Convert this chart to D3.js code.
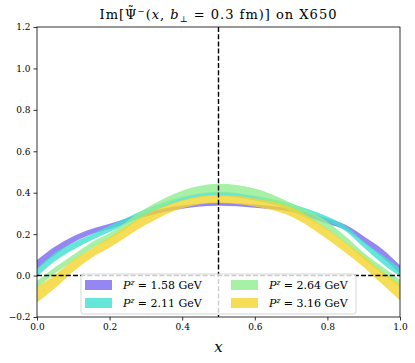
<!DOCTYPE html>
<html>
<head>
<meta charset="utf-8">
<script src="https://cdn.jsdelivr.net/npm/d3@7"></script>
<style>
  body { margin: 0; background: #fff; }
  svg text { fill: #000; }
</style>
</head>
<body>
<div id="chart"></div>
<script>
// sample points along x
var xs = [0, 0.05, 0.1, 0.15, 0.2, 0.3, 0.4, 0.5, 0.6, 0.7, 0.8, 0.85, 0.9, 0.95, 1.0];

// lower / upper edges of each band
var p158_lo = [0.03, 0.10, 0.16, 0.20, 0.225, 0.285, 0.323, 0.337, 0.328, 0.308, 0.25, 0.22, 0.16, 0.09, 0.01];
var p158_hi = [0.075, 0.14, 0.19, 0.225, 0.25, 0.305, 0.338, 0.353, 0.343, 0.323, 0.275, 0.245, 0.19, 0.13, 0.05];
var p211_lo = [-0.005, 0.07, 0.125, 0.17, 0.21, 0.295, 0.36, 0.385, 0.362, 0.322, 0.26, 0.215, 0.135, 0.06, -0.005];
var p211_hi = [0.035, 0.11, 0.16, 0.20, 0.24, 0.32, 0.38, 0.405, 0.385, 0.347, 0.285, 0.24, 0.165, 0.10, 0.035];
var p264_lo = [-0.06, 0.01, 0.07, 0.13, 0.175, 0.29, 0.375, 0.40, 0.38, 0.31, 0.22, 0.155, 0.08, 0.01, -0.055];
var p264_hi = [-0.025, 0.04, 0.10, 0.16, 0.205, 0.325, 0.41, 0.443, 0.42, 0.35, 0.26, 0.19, 0.11, 0.045, -0.02];
var p316_lo = [-0.13, -0.06, 0.02, 0.085, 0.135, 0.245, 0.325, 0.35, 0.333, 0.285, 0.175, 0.11, 0.04, -0.04, -0.12];
var p316_hi = [-0.055, 0.005, 0.075, 0.13, 0.185, 0.295, 0.365, 0.39, 0.373, 0.33, 0.225, 0.16, 0.095, 0.02, -0.04];

var labels = ["1.58", "2.11", "2.64", "3.16"];
var colors = ["#7b68ee", "#40e0d0", "#90ee90", "#f2d52e"];
var bands = [[p158_lo, p158_hi], [p211_lo, p211_hi], [p264_lo, p264_hi], [p316_lo, p316_hi]];

var xTicks = [0, 0.2, 0.4, 0.6, 0.8, 1.0];
var yTicks = [-0.2, 0, 0.2, 0.4, 0.6, 0.8, 1.0, 1.2];

var serif = "'DejaVu Serif', 'Liberation Serif', serif";
var width = 415,
    height = 363;
var mLeft = 37, mRight = 400, mTop = 27, mBottom = 317;

var svg = d3.select("#chart").append("svg")
    .attr("width", width)
    .attr("height", height)
    .attr("font-family", serif);

var x = d3.scaleLinear().domain([0, 1]).range([mLeft, mRight]);
var y = d3.scaleLinear().domain([-0.2, 1.2]).range([mBottom, mTop]);

// bands
bands.forEach(function (b, i) {
    var area = d3.area()
        .curve(d3.curveMonotoneX)
        .x(function (d, j) { return x(xs[j]); })
        .y0(function (d, j) { return y(b[0][j]); })
        .y1(function (d, j) { return y(b[1][j]); });
    svg.append("path")
        .datum(xs)
        .attr("d", area)
        .style("fill", colors[i])
        .style("fill-opacity", 0.8)
        .style("stroke", "none");
});

// dashed reference lines
svg.append("line")
    .attr("x1", x(0)).attr("x2", x(1))
    .attr("y1", y(0)).attr("y2", y(0))
    .style("stroke", "#000").style("stroke-width", 1.4)
    .style("stroke-dasharray", "5,2.2");
svg.append("line")
    .attr("x1", x(0.5)).attr("x2", x(0.5))
    .attr("y1", y(1.2)).attr("y2", y(-0.2))
    .style("stroke", "#000").style("stroke-width", 1.4)
    .style("stroke-dasharray", "5,2.2");

// axes
var xAxis = d3.axisBottom(x).tickValues(xTicks).tickSize(3.5).tickPadding(3)
    .tickFormat(d3.format(".1f"));
var yAxis = d3.axisLeft(y).tickValues(yTicks).tickSize(3.5).tickPadding(3)
    .tickFormat(function (d) { return d3.format(".1f")(d).replace("-", "\u2212"); });

var gx = svg.append("g").attr("transform", "translate(0," + mBottom + ")").call(xAxis);
var gy = svg.append("g").attr("transform", "translate(" + mLeft + ",0)").call(yAxis);
[gx, gy].forEach(function (g) {
    g.attr("font-family", serif).attr("font-size", 9);
    g.select(".domain").remove();
    g.selectAll("line").style("stroke", "#000").style("stroke-width", 0.8);
});

// frame
svg.append("rect")
    .attr("x", mLeft).attr("y", mTop)
    .attr("width", mRight - mLeft).attr("height", mBottom - mTop)
    .style("fill", "none").style("stroke", "#000").style("stroke-width", 0.8);

// title
var title = svg.append("text")
    .attr("x", (mLeft + mRight) / 2)
    .attr("y", 19)
    .attr("text-anchor", "middle")
    .attr("font-size", "13px")
    .attr("letter-spacing", "1px");
title.append("tspan").text("Im[\u03A8");
title.append("tspan").attr("dy", -5).attr("font-size", "8.5px").text("\u2212");
title.append("tspan").attr("dy", 5).text("(");
title.append("tspan").attr("font-style", "italic").text("x");
title.append("tspan").text(", ");
title.append("tspan").attr("font-style", "italic").text("b");
title.append("tspan").attr("dy", 3).attr("font-size", "8.5px").text("\u22A5");
title.append("tspan").attr("dy", -3).text(" = 0.3 fm)] on X650");

// tilde over Psi
var psi = title.node().getExtentOfChar(3);
svg.append("text")
    .attr("x", psi.x + psi.width / 2 - 0.5)
    .attr("y", 15)
    .attr("text-anchor", "middle")
    .attr("font-size", "12px")
    .text("\u02DC");

// x label
svg.append("text")
    .attr("x", (mLeft + mRight) / 2)
    .attr("y", 352)
    .attr("text-anchor", "middle")
    .attr("font-size", "15px")
    .attr("font-style", "italic")
    .text("x");

// legend
var lg = svg.append("g");
lg.append("rect")
    .attr("x", 81).attr("y", 274)
    .attr("width", 275).attr("height", 40)
    .attr("rx", 2.5)
    .style("fill", "#fff").style("fill-opacity", 0.8)
    .style("stroke", "#cccccc").style("stroke-width", 0.8);

labels.forEach(function (lab, i) {
    var col = i < 2 ? 0 : 1,
        row = i % 2;
    var px = col === 0 ? 85 : 231,
        py = row === 0 ? 285 : 303;
    lg.append("rect")
        .attr("x", px).attr("y", py - 5)
        .attr("width", 27).attr("height", 10)
        .style("fill", colors[i]).style("fill-opacity", 0.8);
    var t = lg.append("text")
        .attr("x", px + 38).attr("y", py + 4)
        .attr("font-size", "11px");
    t.append("tspan").attr("font-style", "italic").text("P");
    t.append("tspan").attr("dy", -4).attr("font-size", "7.5px").attr("font-style", "italic").text("z");
    t.append("tspan").attr("dy", 4).text(" = " + lab + " GeV");
});
</script>
</body>
</html>
